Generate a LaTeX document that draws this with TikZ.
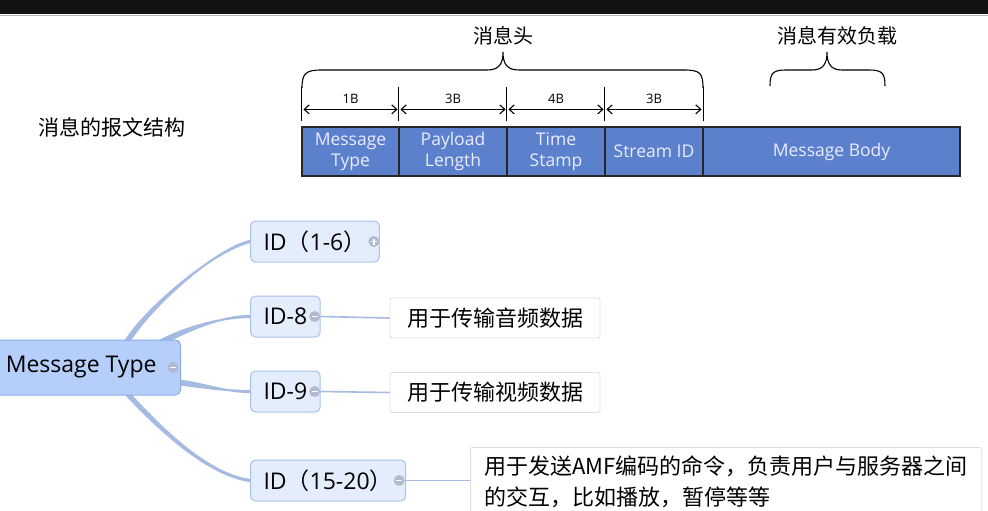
\documentclass[tikz,border=0pt]{standalone}
\usepackage{fontspec}
\setmainfont{Open Sans}
\newfontfamily\cjk{Noto Sans CJK SC}
\usetikzlibrary{arrows.meta,calc,backgrounds}

\definecolor{hdrblue}{RGB}{91,128,204}
\definecolor{rootfill}{RGB}{181,207,250}
\definecolor{rootline}{RGB}{140,174,232}
\definecolor{kidfill}{RGB}{227,237,252}
\definecolor{kidline}{RGB}{170,195,236}
\definecolor{branchc}{RGB}{166,186,226}
\definecolor{leafline}{RGB}{222,222,222}
\definecolor{iconc}{RGB}{178,186,208}

\tikzset{
  field/.style={draw=black!85, line width=1.2pt, fill=hdrblue, text=white!92!blue,
    minimum height=49pt, inner sep=0pt, align=center,
    font=\fontsize{17.5}{21}\selectfont},
  tick/.style={line width=1.1pt},
  span/.style={line width=1.1pt, {Straight Barb[length=5pt,width=9pt]}-{Straight Barb[length=5pt,width=9pt]}},
  curly/.style={line width=1.1pt},
  cjklab/.style={font=\cjk\fontsize{20}{24}\selectfont},
  rootbox/.style={draw=rootline, fill=rootfill, rounded corners=5pt, line width=1pt,
    minimum height=55pt, inner xsep=24pt, font=\fontsize{23}{26}\selectfont},
  kidbox/.style={draw=kidline, fill=kidfill, rounded corners=5pt, line width=1pt,
    minimum height=41pt, inner xsep=13pt, anchor=west, font=\fontsize{23}{26}\selectfont},
  leafbox/.style={draw=leafline, fill=white, rounded corners=2pt, line width=0.8pt,
    font=\cjk\fontsize{22}{31}\selectfont},
  twig/.style={draw=branchc, line width=1.6pt},
  branch/.style={fill=branchc, draw=branchc, line width=2pt, line join=round}
}

% fold marks on the mind map nodes
\newcommand\foldminus[1]{%
  \fill[iconc] (#1) circle (5.5pt);
  \draw[white, line width=1.8pt] ($(#1)+(-3,0)$) -- ($(#1)+(3,0)$);}
\newcommand\foldplus[1]{%
  \foldminus{#1}
  \draw[white, line width=1.8pt] ($(#1)+(0,-3)$) -- ($(#1)+(0,3)$);}
% tapered branch: start, c1 (rel. start), c2 (rel. end), half width at start, end
\newcommand\mmbranch[5]{%
  \filldraw[branch] ($(#1)+(#4)$) .. controls +(#2) and +(#3) .. ($(#5)+(0,-0.6)$)
    -- ($(#5)+(0,0.6)$) .. controls +(#3) and +(#2) .. ($(#1)-(#4)$) -- cycle;}

\begin{document}
\begin{tikzpicture}[x=1pt, y=-1pt]
\useasboundingbox (0,0) rectangle (988,511);
\fill[black!93] (0,0) rectangle (988,14);
\draw[black!30] (0,15) -- (988,15);

% ---- message layout: header fields and body --------------------------------
\foreach \n/\xc/\w/\t in {f1/350.5/97/{Message\\Type}, f2/453/108/{Payload\\Length},
    f3/556/98/{Time\\Stamp}, f4/654/98/{Stream ID}, f5/831.5/257/{Message Body}}
  \node[field, minimum width=\w pt] (\n) at (\xc,151.5) {\t};

\node[cjklab, font=\cjk\fontsize{21}{24}\selectfont] (title) at (112,127) {消息的报文结构};

% ---- byte widths -----------------------------------------------------------
\foreach \i/\b in {1/1B, 2/3B, 3/4B, 4/3B}{
  \draw[tick] ([yshift=5pt]f\i.north west) -- ([yshift=39pt]f\i.north west);
  \draw[span] ([xshift=2pt, yshift=17pt]f\i.north west) -- ([xshift=-2pt, yshift=17pt]f\i.north east)
    node[midway, yshift=11pt, font=\fontsize{13}{15}\selectfont] {\b};
}
\draw[tick] ([yshift=5pt]f4.north east) -- ([yshift=39pt]f4.north east);

% ---- braces ----------------------------------------------------------------
\node[cjklab] (head) at (503,36) {消息头};
\node[cjklab] (load) at (837,36) {消息有效负载};
\draw[curly] (302,88) .. controls (302,73) and (306,70) .. (322,70) -- (487,70)
  .. controls (499,70) and (503,64) .. (503,52) .. controls (503,64) and (507,70) .. (519,70)
  -- (684,70) .. controls (700,70) and (703,73) .. (703,88);
\draw[curly] (770,86) .. controls (770,73) and (773,70) .. (786,70) -- (812,70)
  .. controls (823,70) and (827,64) .. (827,52) .. controls (827,64) and (831,70) .. (842,70)
  -- (869,70) .. controls (882,70) and (885,73) .. (885,86);

% ---- mind map --------------------------------------------------------------
\node[rootbox, anchor=east] (root) at (181,367.5) {Message Type};
\node[kidbox] (id16) at (250,241.5) {ID{\cjk（}1-6{\cjk）}};
\node[kidbox] (id8) at (250,316.5) {ID-8};
\node[kidbox] (id9) at (250,391.5) {ID-9};
\node[kidbox] (id1520) at (250,480.5) {ID{\cjk（}15-20{\cjk）}};

\node[leafbox, minimum width=210pt, minimum height=40pt] (leaf8) at (495,318) {用于传输音频数据};
\node[leafbox, minimum width=210pt, minimum height=40pt] (leaf9) at (495,392.5) {用于传输视频数据};
\node[leafbox, anchor=north west, align=left, inner xsep=14pt, inner ysep=8pt] (leafamf) at (470,447)
  {用于发送AMF编码的命令，负责用户与服务器之间\\的交互，比如播放，暂停等等};

\begin{scope}[on background layer]
\mmbranch{$(root.north)+(46,2)$}{22,-35}{-35,8}{2.2,0}{id16.west}
\mmbranch{$(root.north)+(80,3)$}{22,-12}{-30,0}{0.8,2}{id8.west}
\mmbranch{$(root.east)+(-2,15)$}{25,3}{-25,0}{0,2}{id9.west}
\mmbranch{$(root.south)+(46,-2)$}{27,29}{-45,-6}{2.2,0}{id1520.west}
\draw[twig] (id8.east) -- (leaf8.west);
\draw[twig] (id9.east) -- (leaf9.west);
\draw[twig] (id1520.east) -- (id1520.east -| leafamf.west);
\end{scope}

\foldminus{$(root.east)+(-8,0)$}
\foldplus{$(id16.east)+(-6,0)$}
\foldminus{$(id8.east)+(-6,0)$}
\foldminus{$(id9.east)+(-6,0)$}
\foldminus{$(id1520.east)+(-7,0)$}
\end{tikzpicture}
\end{document}
